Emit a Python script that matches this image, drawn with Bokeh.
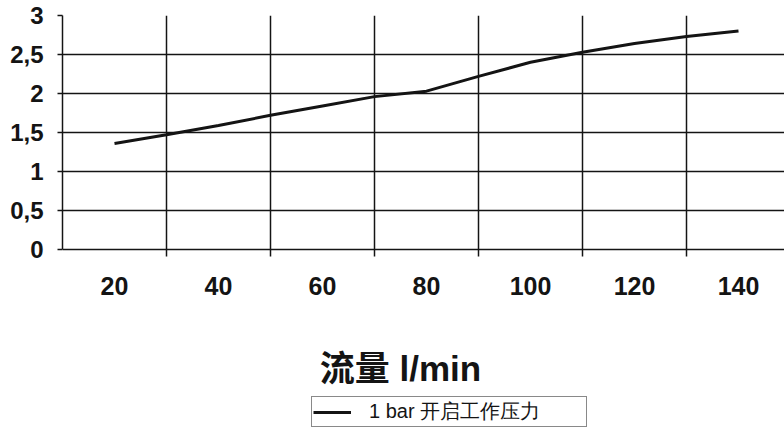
from bokeh.plotting import figure
from bokeh.models import Range1d, FixedTicker, Label, Legend, LegendItem
from bokeh.core.properties import value
from bokeh.embed import file_html
from bokeh.resources import INLINE

# ---- data ----
flow = [20, 30, 40, 50, 60, 70, 80, 90, 100, 110, 120, 130, 140]
pressure = [1.36, 1.47, 1.59, 1.72, 1.84, 1.96, 2.03, 2.22, 2.40, 2.53, 2.64, 2.73, 2.80]
x_label_ticks = [20, 40, 60, 80, 100, 120, 140]
x_tick_labels = ["20", "40", "60", "80", "100", "120", "140"]
x_grid_ticks = [10, 30, 50, 70, 90, 110, 130]
y_ticks = [0, 0.5, 1, 1.5, 2, 2.5, 3]
y_tick_labels = ["0", "0,5", "1", "1,5", "2", "2,5", "3"]
x_title = "流量 l/min"
series_name = "1 bar 开启工作压力"

LATIN = "Liberation Sans, Noto Sans CJK SC"
INK = "#141414"

# frame covers the canvas below the top border; 78 px per pressure unit
W, H = 784, 430
PX_PER_Y = 78.0
PX_PER_X = 5.2
FRAME_TOP, FRAME_LEFT = 15, 62
y_top = 3.0
y_bottom = y_top - (H - FRAME_TOP) / PX_PER_Y
x_left = 10.0
x_right = x_left + (W - FRAME_LEFT) / PX_PER_X

def y_at(px):
    """pressure value at a page pixel row"""
    return y_top - (px - FRAME_TOP) / PX_PER_Y

def x_at(px):
    return x_left + (px - FRAME_LEFT) / PX_PER_X

p = figure(width=W, height=H, output_backend="svg", toolbar_location=None,
           x_range=Range1d(x_left, x_right), y_range=Range1d(y_bottom, y_top),
           x_axis_location=None,
           min_border_left=FRAME_LEFT, min_border_right=0,
           min_border_top=FRAME_TOP, min_border_bottom=0)
p.outline_line_color = None
p.background_fill_color = "white"
p.border_fill_color = "white"

r = p.line(flow, pressure, line_width=3, line_color=INK)

# grid: vertical lines at odd tens, reaching 7px under the zero line
tick_len = 7 / PX_PER_Y
p.xgrid.ticker = FixedTicker(ticks=x_grid_ticks)
p.xgrid.cross_bounds = (-tick_len, 3)
p.xgrid.grid_line_color = INK
p.xgrid.grid_line_width = 1.5
p.ygrid.ticker = FixedTicker(ticks=y_ticks[:-1])
p.ygrid.grid_line_color = INK
p.ygrid.grid_line_width = 1.5

ya = p.yaxis[0]
ya.ticker = FixedTicker(ticks=y_ticks)
ya.bounds = (0, 3)
ya.major_label_overrides = {t: s for t, s in zip(y_ticks, y_tick_labels)}
ya.major_tick_out = 5
ya.major_tick_in = 0
ya.minor_tick_out = 0
ya.minor_tick_in = 0
ya.major_tick_line_color = INK
ya.major_tick_line_width = 1.5
ya.axis_line_color = INK
ya.axis_line_width = 1.5
ya.major_label_text_font = LATIN
ya.major_label_text_font_size = "24px"
ya.major_label_text_font_style = "bold"
ya.major_label_text_color = INK
ya.major_label_standoff = 14

# x tick labels (category-style, between the grid lines)
p.text(x=x_label_ticks, y=[y_at(285)] * len(x_label_ticks), text=x_tick_labels,
       text_align="center", text_baseline="middle", text_font=value(LATIN),
       text_font_size="25px", text_font_style="bold", text_color=INK)

title = Label(x=x_at(400), y=y_at(368), text=x_title, text_align="center",
              text_baseline="middle", text_font=LATIN, text_font_size="35px",
              text_font_style="bold", text_color=INK)
p.add_layout(title)

legend = Legend(items=[LegendItem(label=series_name, renderers=[r])],
                location=(311 - FRAME_LEFT, H - 427),
                border_line_color=INK, border_line_width=1.2,
                padding=1, margin=0, glyph_width=38, glyph_height=18,
                label_standoff=18, label_text_font="Liberation Sans",
                label_text_font_size="20px", label_text_line_height=1.0,
                label_height=18, label_text_color=INK,
                label_width=216, background_fill_color="white",
                background_fill_alpha=1)
p.add_layout(legend)

open("out.html", "w").write(file_html(p, INLINE))
